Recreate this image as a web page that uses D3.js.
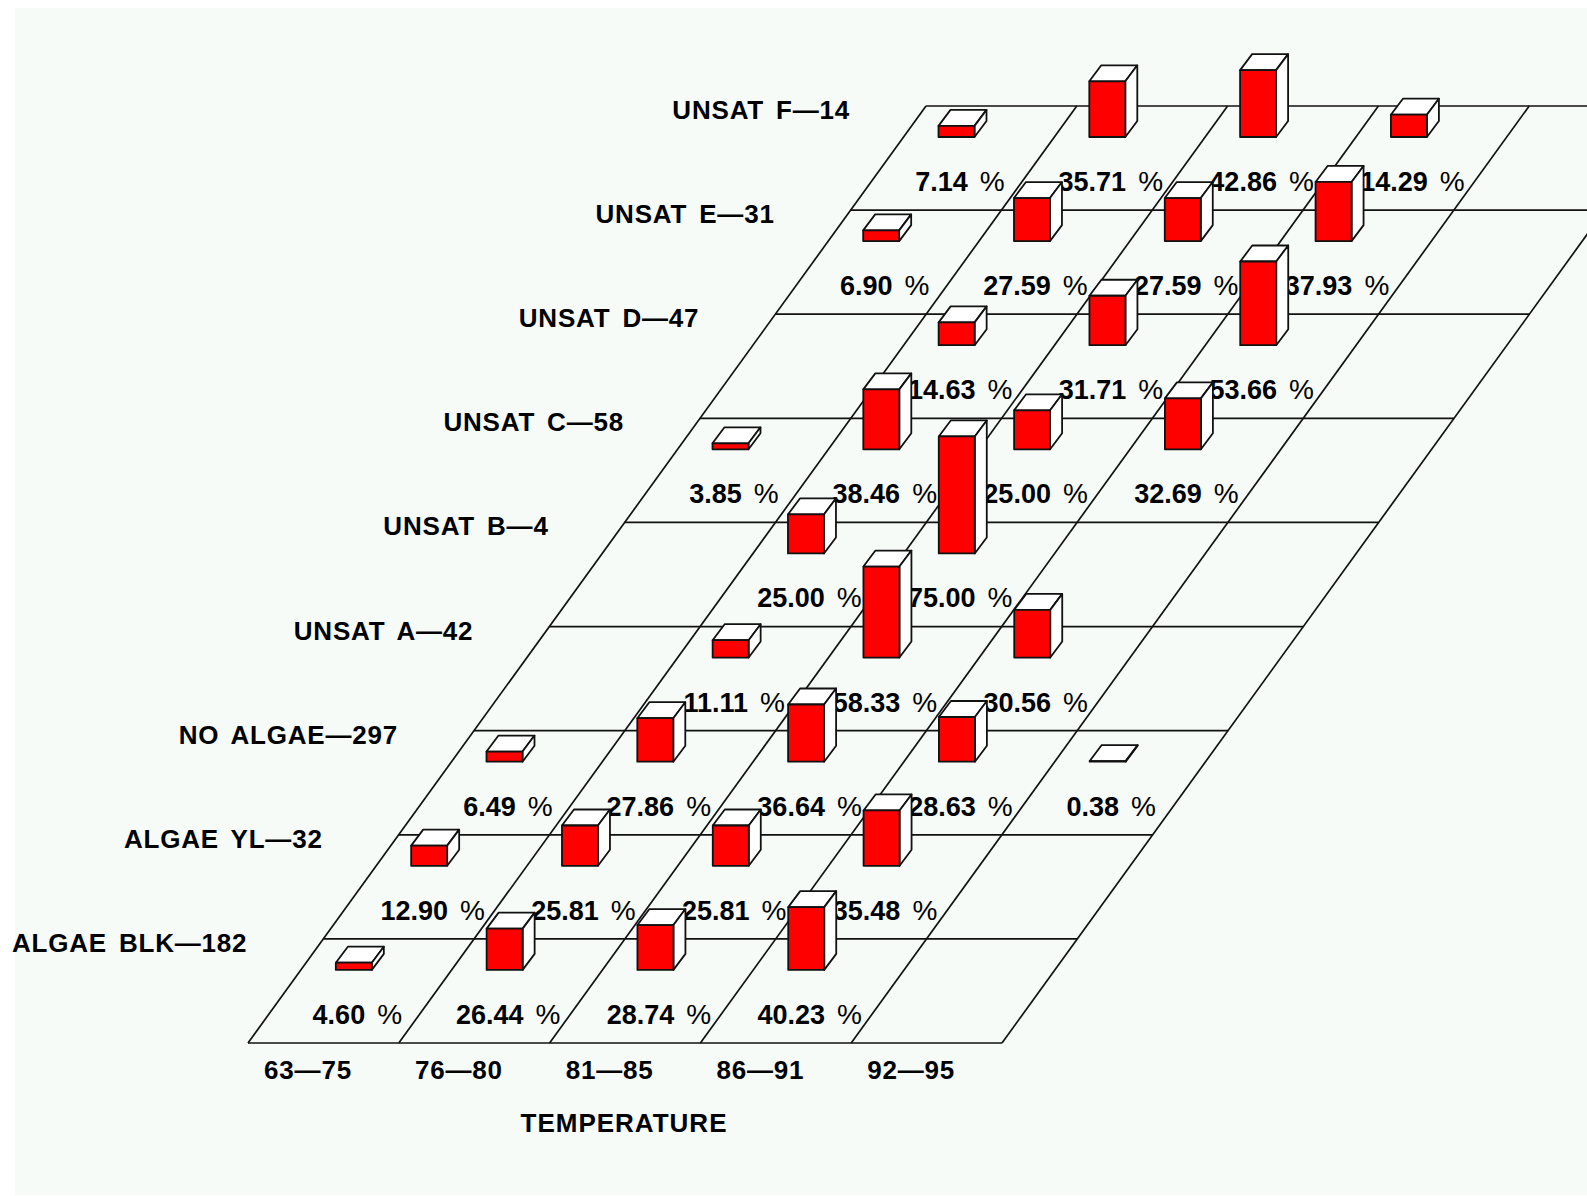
<!DOCTYPE html>
<html>
<head>
<meta charset="utf-8">
<script src="https://cdn.jsdelivr.net/npm/d3@7"></script>
<style>
    html, body { margin: 0; padding: 0; background: #fff; overflow: hidden; }
    text { font-family: "Liberation Sans", sans-serif; fill: #000; }
</style>
</head>
<body>
<svg id="chart" width="1587" height="1196"></svg>
<script>
// rows go from the front of the floor to the back
const rowLabels = ["ALGAE BLK\u2014182", "ALGAE YL\u201432", "NO ALGAE\u2014297", "UNSAT A\u201442",
                   "UNSAT B\u20144", "UNSAT C\u201458", "UNSAT D\u201447", "UNSAT E\u201431", "UNSAT F\u201414"];
const tempBins = ["63\u201475", "76\u201480", "81\u201485", "86\u201491", "92\u201495"];

const algaeBlk = [4.60, 26.44, 28.74, 40.23, null];
const algaeYl  = [12.90, 25.81, 25.81, 35.48, null];
const noAlgae  = [6.49, 27.86, 36.64, 28.63, 0.38];
const unsatA   = [null, 11.11, 58.33, 30.56, null];
const unsatB   = [null, 25.00, 75.00, null, null];
const unsatC   = [3.85, 38.46, 25.00, 32.69, null];
const unsatD   = [null, 14.63, 31.71, 53.66, null];
const unsatE   = [6.90, 27.59, 27.59, 37.93, null];
const unsatF   = [7.14, 35.71, 42.86, 14.29, null];
const rowValues = [algaeBlk, algaeYl, noAlgae, unsatA, unsatB, unsatC, unsatD, unsatE, unsatF];

const xAxisTitle = "TEMPERATURE";

const nRows = rowLabels.length;
const nCols = tempBins.length;

const svg = d3.select("#chart");

// the floor is a sheared grid: every row line starts further right the further back it is
const colX = d3.scaleLinear().domain([0, nCols]).range([0, 754]);
const rowY = d3.scaleLinear().domain([0, nRows]).range([1043, 106]);
const rowStart = d3.scaleLinear().domain([0, nRows]).range([248, 926]);
const barH = d3.scaleLinear().domain([0, 100]).range([0, 156]);

const BAR_W = 36;
const DEPTH_X = 12;
const DEPTH_Y = 16;
const BAR_DX = 12.5;   // bar offset from the cell's back left corner
const BAR_DY = 31;
const LABEL_DX = 34;   // centre of the percent text in a cell
const LABEL_DY = 76;
const LINE = "#111";

function px(row, col){
    return rowStart(row) + colX(col);
}

function drawBackground(){
    svg.append("rect")
        .attr("x", 15).attr("y", 8)
        .attr("width", 1572).attr("height", 1187)
        .attr("fill", "#f6fbf8");
}

function drawFloor(){
    const floor = svg.append("g")
        .attr("fill", "none")
        .attr("stroke", LINE)
        .attr("stroke-width", 1.7);

    floor.selectAll("line.row")
        .data(d3.range(nRows + 1))
        .join("line")
        .attr("class", "row")
        .attr("x1", r => px(r, 0))
        .attr("x2", r => px(r, nCols))
        .attr("y1", r => rowY(r))
        .attr("y2", r => rowY(r));

    floor.selectAll("line.col")
        .data(d3.range(nCols + 1))
        .join("line")
        .attr("class", "col")
        .attr("x1", c => px(0, c))
        .attr("x2", c => px(nRows, c))
        .attr("y1", rowY(0))
        .attr("y2", rowY(nRows));
}

function drawRow(row){
    const cells = rowValues[row]
        .map((v, col) => ({v: v, col: col}))
        .filter(d => d.v != null);
    const g = svg.append("g");
    // row index r sits on line r + 1 of the floor
    const lineIdx = row + 1;

    const labels = g.selectAll("text.pct")
        .data(cells)
        .join("text")
        .attr("class", "pct")
        .attr("x", d => px(lineIdx, d.col) + LABEL_DX)
        .attr("y", rowY(lineIdx) + LABEL_DY + 9)
        .attr("text-anchor", "middle")
        .attr("font-size", 27);
    labels.append("tspan")
        .attr("font-weight", "bold")
        .text(d => d.v.toFixed(2));
    labels.append("tspan")
        .attr("dx", 12)
        .attr("font-size", 28)
        .text("%");

    const bars = g.selectAll("g.bar")
        .data(cells)
        .join("g")
        .attr("class", "bar")
        .attr("transform", d => `translate(${px(lineIdx, d.col) + BAR_DX},${rowY(lineIdx) + BAR_DY})`)
        .attr("stroke", LINE)
        .attr("stroke-width", 1.8)
        .attr("stroke-linejoin", "round");

    // white top and side, red front
    bars.append("path")
        .attr("fill", "#fff")
        .attr("d", d => {
            const h = barH(d.v);
            return `M0,${-h}L${DEPTH_X},${-h - DEPTH_Y}L${BAR_W + DEPTH_X},${-h - DEPTH_Y}L${BAR_W},${-h}Z`;
        });
    bars.append("path")
        .attr("fill", "#fff")
        .attr("d", d => {
            const h = barH(d.v);
            return `M${BAR_W},0L${BAR_W + DEPTH_X},${-DEPTH_Y}L${BAR_W + DEPTH_X},${-h - DEPTH_Y}L${BAR_W},${-h}Z`;
        });
    bars.append("rect")
        .attr("fill", "#ff0000")
        .attr("x", 0)
        .attr("y", d => -barH(d.v))
        .attr("width", BAR_W)
        .attr("height", d => barH(d.v));
}

function drawLabels(){
    svg.selectAll("text.rowlabel")
        .data(rowLabels)
        .join("text")
        .attr("class", "rowlabel")
        .attr("x", (d, i) => rowStart(i + 1) - 76)
        .attr("y", (d, i) => rowY(i + 1) + 13)
        .attr("text-anchor", "end")
        .attr("font-size", 26)
        .attr("font-weight", "bold")
        .attr("letter-spacing", 0.8)
        .attr("word-spacing", 4)
        .text(d => d);

    svg.selectAll("text.tick")
        .data(tempBins)
        .join("text")
        .attr("class", "tick")
        .attr("x", (d, i) => px(0, i) + 60)
        .attr("y", rowY(0) + 36)
        .attr("text-anchor", "middle")
        .attr("font-size", 26)
        .attr("font-weight", "bold")
        .attr("letter-spacing", 0.8)
        .text(d => d);

    svg.append("text")
        .attr("x", 624)
        .attr("y", rowY(0) + 89)
        .attr("text-anchor", "middle")
        .attr("font-size", 26)
        .attr("font-weight", "bold")
        .attr("letter-spacing", 1)
        .text(xAxisTitle);
}

drawBackground();
drawFloor();
// back rows first so the front bars cover what is behind them
d3.range(nRows - 1, -1, -1).forEach(drawRow);
drawLabels();
</script>
</body>
</html>
